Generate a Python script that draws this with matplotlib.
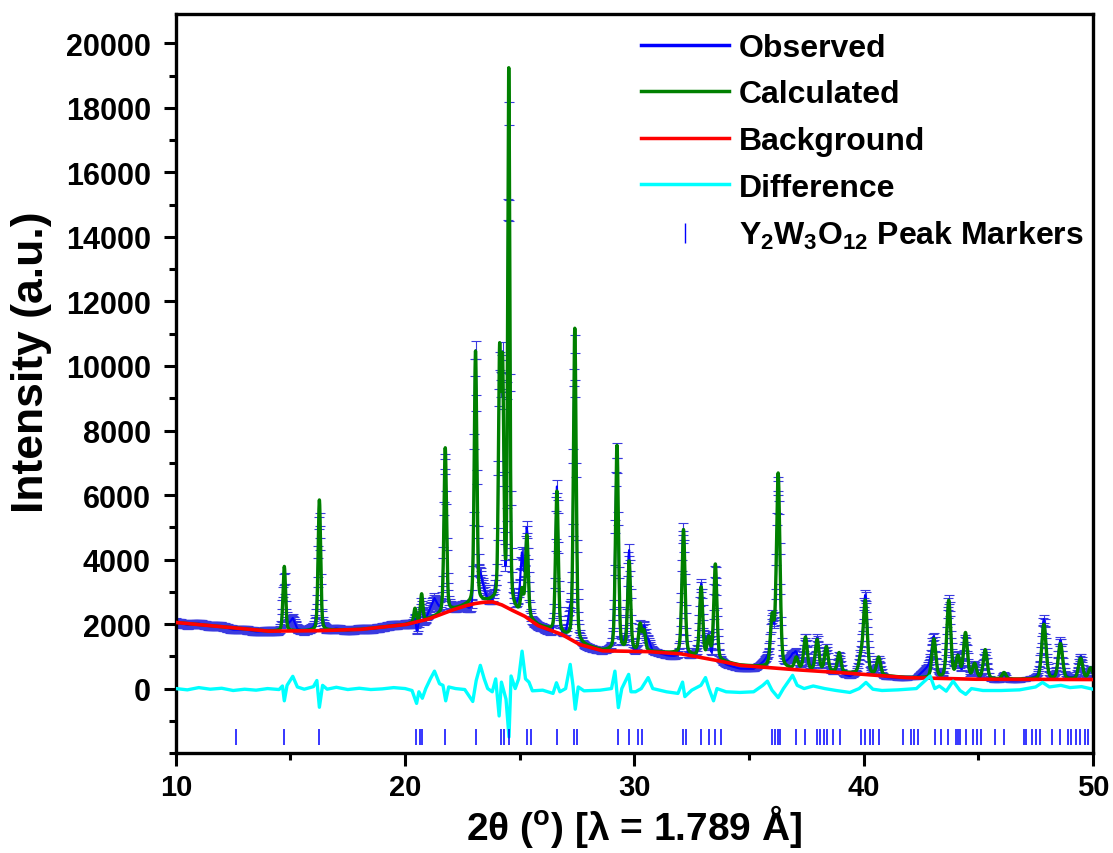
import numpy as np
import matplotlib
matplotlib.use('Agg')
import matplotlib.pyplot as plt
from matplotlib.lines import Line2D
from matplotlib.ticker import MultipleLocator

# background (red curve): 2theta, intensity
bg_theta = [10, 12, 14, 16, 18, 20, 21, 22, 22.6, 23.0, 23.4, 23.8, 24.2, 24.6, 25.2,
            25.8, 26.8, 27.6, 28.6, 30.5, 32, 33.4, 34.6, 36.7, 38.9, 41.8, 44.7, 50]
bg_int = [2050, 1920, 1780, 1790, 1830, 1980, 2150, 2420, 2560, 2630, 2675, 2690, 2600,
          2450, 2250, 1950, 1690, 1370, 1170, 1150, 1080, 900, 720, 600, 500, 340, 290, 280]

# calculated peaks: position, height above background, fwhm
peak_pos = [14.73, 16.26, 20.43, 20.72, 21.75, 23.07, 24.12, 24.25, 24.52, 25.10,
            25.31, 26.62, 27.40, 29.24, 29.77, 30.25, 30.42, 32.14, 32.91, 33.24,
            33.53, 36.01, 36.27, 37.06, 37.46, 37.97, 38.37, 38.93, 39.87, 40.07,
            40.65, 43.06, 43.71, 44.11, 44.44, 44.84, 45.30, 46.12, 47.86, 48.58,
            49.46, 49.90]
peak_amp = [2000, 4050, 420, 820, 5100, 7800, 7400, 7000, 16600, 700,
            2500, 4350, 9700, 6350, 2750, 800, 600, 3850, 2150, 600,
            2950, 1500, 6000, 350, 1000, 950, 750, 600, 450, 2250,
            550, 1200, 2400, 650, 1400, 450, 900, 200, 1700, 1100,
            650, 350]
peak_fwhm = [0.13, 0.13, 0.12, 0.12, 0.13, 0.13, 0.12, 0.12, 0.11, 0.14,
             0.14, 0.14, 0.14, 0.15, 0.15, 0.15, 0.15, 0.16, 0.16, 0.16,
             0.16, 0.18, 0.18, 0.18, 0.18, 0.18, 0.18, 0.18, 0.2, 0.2,
             0.2, 0.2, 0.2, 0.2, 0.2, 0.2, 0.2, 0.2, 0.22, 0.22,
             0.22, 0.22]

# difference curve (obs - calc)
diff_theta = [10.0, 10.5, 11, 11.5, 12, 12.5, 13, 13.5, 14, 14.5, 14.65, 14.73, 14.85,
              15.1, 15.3, 15.6, 16.0, 16.15, 16.26, 16.4, 16.6, 17, 17.5, 18, 18.5,
              19, 19.5, 20, 20.3, 20.5, 20.6, 20.75, 20.9, 21.1, 21.28, 21.5, 21.65,
              21.77, 21.9, 22.2, 22.6, 22.95, 23.1, 23.28, 23.45, 23.6, 23.8, 23.95,
              24.1, 24.2, 24.4, 24.53, 24.62, 24.8, 24.95, 25.1, 25.25, 25.4, 25.55,
              26.0, 26.45, 26.6, 26.75, 27.0, 27.2, 27.32, 27.42, 27.55, 27.8, 28.5,
              29.0, 29.15, 29.3, 29.45, 29.75, 29.85, 30.05, 30.3, 30.6, 30.8, 31.4,
              31.9, 32.1, 32.2, 32.5, 32.9, 33.1, 33.25, 33.45, 33.6, 34.0, 34.6,
              35.2, 35.6, 35.8, 36.0, 36.27, 36.5, 36.9, 37.1, 37.4, 37.8, 38.3,
              38.8, 39.4, 39.8, 40.1, 40.4, 40.8, 41.5, 42.3, 42.9, 43.1, 43.3,
              43.6, 43.9, 44.2, 44.45, 44.7, 45.2, 46.0, 46.8, 47.5, 47.8, 48.1,
              48.6, 49.0, 49.5, 50.0]
diff_int = [0, -40, 30, -20, 10, -60, -20, -50, 0, -30, 80, -380, 100,
            380, 50, -20, 60, 250, -580, 100, -20, 40, -30, 10, -30,
            -10, 30, 0, -60, -460, -100, -300, 0, 300, 540, 150, 100,
            -380, 50, 0, -30, -400, 250, 720, 300, 0, -100, 300,
            -850, 200, -330, -1500, 390, 0, 300, 1160, 300, 200, -70,
            -50, -150, 180, -100, 0, 750, 100, -640, 50, -70, -50,
            0, 540, -590, 0, 440, -100, -100, 0, 340, 0, -100,
            -150, 200, -250, -50, 100, 340, 0, -380, 0, -100, -120,
            -100, 100, 230, -50, -280, 0, 410, 100, 0, 80, 0,
            -60, -120, 0, 190, -20, -60, -40, 0, 390, 0, 80,
            -80, 230, -60, -180, 0, -60, -60, -40, 50, 190, 50,
            100, 30, 60, -20]

# Y2W3O12 reflection positions
marker_pos = [12.64, 14.71, 16.26, 20.47, 20.65, 20.73, 21.75, 23.07, 24.16, 24.31,
              24.51, 25.33, 25.47, 26.63, 27.37, 27.49, 29.27, 29.76, 30.17, 30.35,
              32.13, 32.25, 32.91, 33.24, 33.53, 33.79, 36.01, 36.13, 36.25, 36.36,
              37.06, 37.46, 37.97, 38.11, 38.26, 38.41, 38.66, 38.95, 39.87, 40.07,
              40.27, 40.42, 40.65, 41.70, 42.07, 42.21, 42.36, 43.09, 43.38, 43.67,
              44.04, 44.11, 44.18, 44.47, 44.76, 44.93, 45.13, 45.71, 46.12, 46.98,
              47.10, 47.36, 47.53, 47.68, 48.23, 48.56, 48.92, 49.06, 49.28, 49.43,
              49.65, 49.79]
marker_level = -1500


def profile(x):
    y = np.interp(x, bg_theta, bg_int)
    eta = 0.3
    for p, a, w in zip(peak_pos, peak_amp, peak_fwhm):
        d = (x - p) / w
        y = y + a * ((1 - eta) * np.exp(-4 * np.log(2) * d**2) + eta / (1 + 4 * d**2))
    return y


def main():
    plt.rcParams['font.family'] = ['Liberation Sans', 'DejaVu Sans']
    plt.rcParams['font.weight'] = 'bold'
    plt.rcParams['mathtext.fontset'] = 'custom'
    plt.rcParams['mathtext.rm'] = 'Liberation Sans:bold'
    plt.rcParams['mathtext.it'] = 'Liberation Sans:bold'
    plt.rcParams['mathtext.bf'] = 'Liberation Sans:bold'

    fig = plt.figure(figsize=(11.13, 8.54), dpi=100)
    ax = fig.add_axes([0.158, 0.117, 0.824, 0.865])

    x_calc = np.linspace(10, 50, 8001)
    y_calc = profile(x_calc)
    x_obs = np.arange(10, 50.0001, 0.03)
    y_obs = profile(x_obs) + np.interp(x_obs, diff_theta, diff_int)

    ax.errorbar(x_obs, y_obs, yerr=2.7 * np.sqrt(y_obs), fmt='-', color='blue', lw=1.5,
                ecolor='#3a3ae0', elinewidth=0.8, capsize=3.5, capthick=0.8, zorder=1)
    ax.plot(x_calc, y_calc, '-', color='green', lw=2.4, zorder=2)
    ax.plot(x_calc, np.interp(x_calc, bg_theta, bg_int), '-', color='red', lw=2.6, zorder=3)
    ax.plot(diff_theta, diff_int, '-', color='cyan', lw=2.4, zorder=3)
    ax.plot(marker_pos, [marker_level] * len(marker_pos), '|', color='blue', ms=12, mew=1.1, zorder=4)

    ax.set_xlim(10, 50)
    ax.set_ylim(-2000, 20900)
    ax.xaxis.set_major_locator(MultipleLocator(10))
    ax.xaxis.set_minor_locator(MultipleLocator(5))
    ax.yaxis.set_minor_locator(MultipleLocator(1000))
    ax.set_yticks(np.arange(0, 20001, 2000))
    ax.tick_params(which='both', direction='out', width=2.2, top=False, right=False)
    ax.tick_params(which='major', length=9)
    ax.tick_params(axis='y', which='major', pad=9)
    ax.tick_params(axis='x', which='major', pad=5)
    ax.tick_params(which='minor', length=5)
    for s in ax.spines.values():
        s.set_linewidth(2.4)

    for lab in ax.get_yticklabels():
        lab.set_fontsize(22)
        lab.set_fontweight('bold')
    for lab in ax.get_xticklabels():
        lab.set_fontsize(21)
        lab.set_fontweight('bold')

    ax.set_xlabel('2\u03b8 ($^{o}$) [\u03bb = 1.789 \u00c5]', fontsize=28, fontweight='bold')
    ax.xaxis.set_label_coords(0.5, -0.066)
    ax.set_ylabel('Intensity (a.u.)', fontsize=32, fontweight='bold')
    ax.yaxis.set_label_coords(-0.135, 0.53)

    handles = [Line2D([], [], color='blue', lw=2.5),
               Line2D([], [], color='green', lw=2.5),
               Line2D([], [], color='red', lw=2.5),
               Line2D([], [], color='cyan', lw=2.5),
               Line2D([], [], color='blue', marker='|', ls='none', ms=14, mew=1)]
    labels = ['Observed', 'Calculated', 'Background', 'Difference',
              '$Y_2W_3O_{12}$ Peak Markers']
    ax.legend(handles, labels, loc='upper right', bbox_to_anchor=(1.021, 1.014),
              frameon=False, prop={'size': 23, 'weight': 'bold'},
              handlelength=2.75, handletextpad=0.3, labelspacing=0.52)

    fig.savefig('out.png', dpi=100)


if __name__ == '__main__':
    main()
